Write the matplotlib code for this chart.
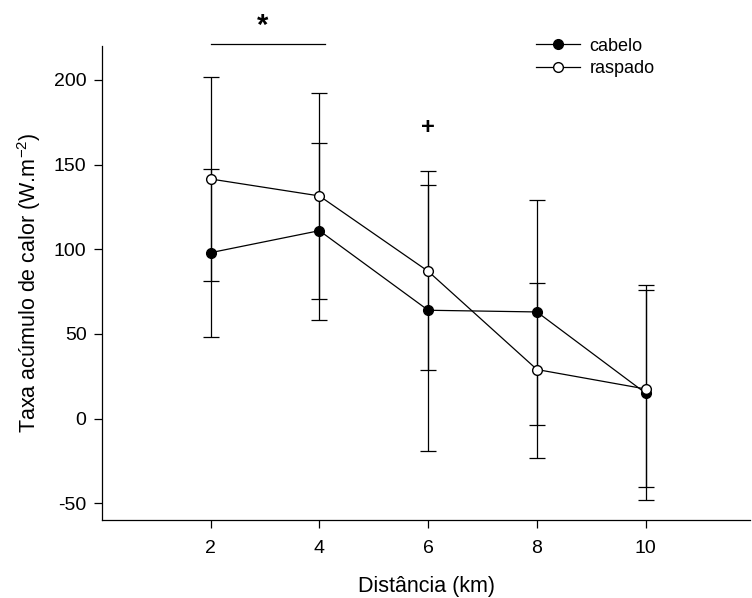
import numpy as np
import matplotlib.pyplot as plt
from matplotlib.lines import Line2D

plt.rcParams['font.family'] = ['Liberation Sans', 'DejaVu Sans']
plt.rcParams['axes.unicode_minus'] = False
plt.rcParams['mathtext.fontset'] = 'custom'
plt.rcParams['mathtext.rm'] = 'Liberation Sans'

# distance (km) and mean heat accumulation rate for each group
dist = [2, 4, 6, 8, 10]
cabelo = [98, 111, 64, 63, 15]
raspado = [141.5, 131.5, 87, 29, 17.5]

# error bar extents (below, above)
cabelo_lo = [50, 53, 83, 67, 63]
cabelo_hi = [49.5, 52, 74, 66, 64]
raspado_lo = [60, 61, 58.5, 52, 58]
raspado_hi = [60, 61, 59, 51, 58.5]

fig = plt.figure(figsize=(7.52, 5.98), dpi=100)
ax = fig.add_axes([0.1355, 0.13, 0.862, 0.793])

lw = 0.9
ms = 7
ax.errorbar(dist, cabelo, yerr=[cabelo_lo, cabelo_hi], color='black', lw=lw,
            elinewidth=lw, capsize=5.5, capthick=lw, marker='o', ms=ms,
            mfc='black', mec='black', zorder=3)
ax.errorbar(dist, raspado, yerr=[raspado_lo, raspado_hi], color='black', lw=lw,
            elinewidth=lw, capsize=5.5, capthick=lw, marker='o', ms=ms,
            mfc='white', mec='black', zorder=4)

ax.set_xlim(0, 11.92)
ax.set_ylim(-60, 220)
ax.set_xticks([2, 4, 6, 8, 10])
ax.set_yticks([-50, 0, 50, 100, 150, 200])
ax.tick_params(direction='out', length=6, width=0.9, labelsize=14, pad=5)
ax.tick_params(axis='x', pad=8)
for side in ['top', 'right']:
    ax.spines[side].set_visible(False)
for side in ['left', 'bottom']:
    ax.spines[side].set_linewidth(0.9)

ax.set_xlabel('Distância (km)', fontsize=15.5, labelpad=14)
ax.set_ylabel('Taxa acúmulo de calor (W.m$^{\\mathrm{-2}}$)', fontsize=15.5, labelpad=8)

# significance marks
ax.plot([2, 4.1], [221, 221], color='black', lw=0.9, clip_on=False)
ax.text(2.95, 232, '*', fontsize=21, fontweight='bold', ha='center', va='center',
        clip_on=False)
ax.text(6, 172, '+', fontsize=17, ha='center', va='center', fontweight='bold')

handles = [
    Line2D([], [], color='black', lw=lw, marker='o', ms=ms, mfc='black', mec='black'),
    Line2D([], [], color='black', lw=lw, marker='o', ms=ms, mfc='white', mec='black'),
]
ax.legend(handles, ['cabelo', 'raspado'], loc='upper left',
          bbox_to_anchor=(0.645, 1.052), frameon=False, fontsize=13,
          handlelength=2.4, handletextpad=0.55, labelspacing=0.3)

fig.savefig('out.png', dpi=100)
